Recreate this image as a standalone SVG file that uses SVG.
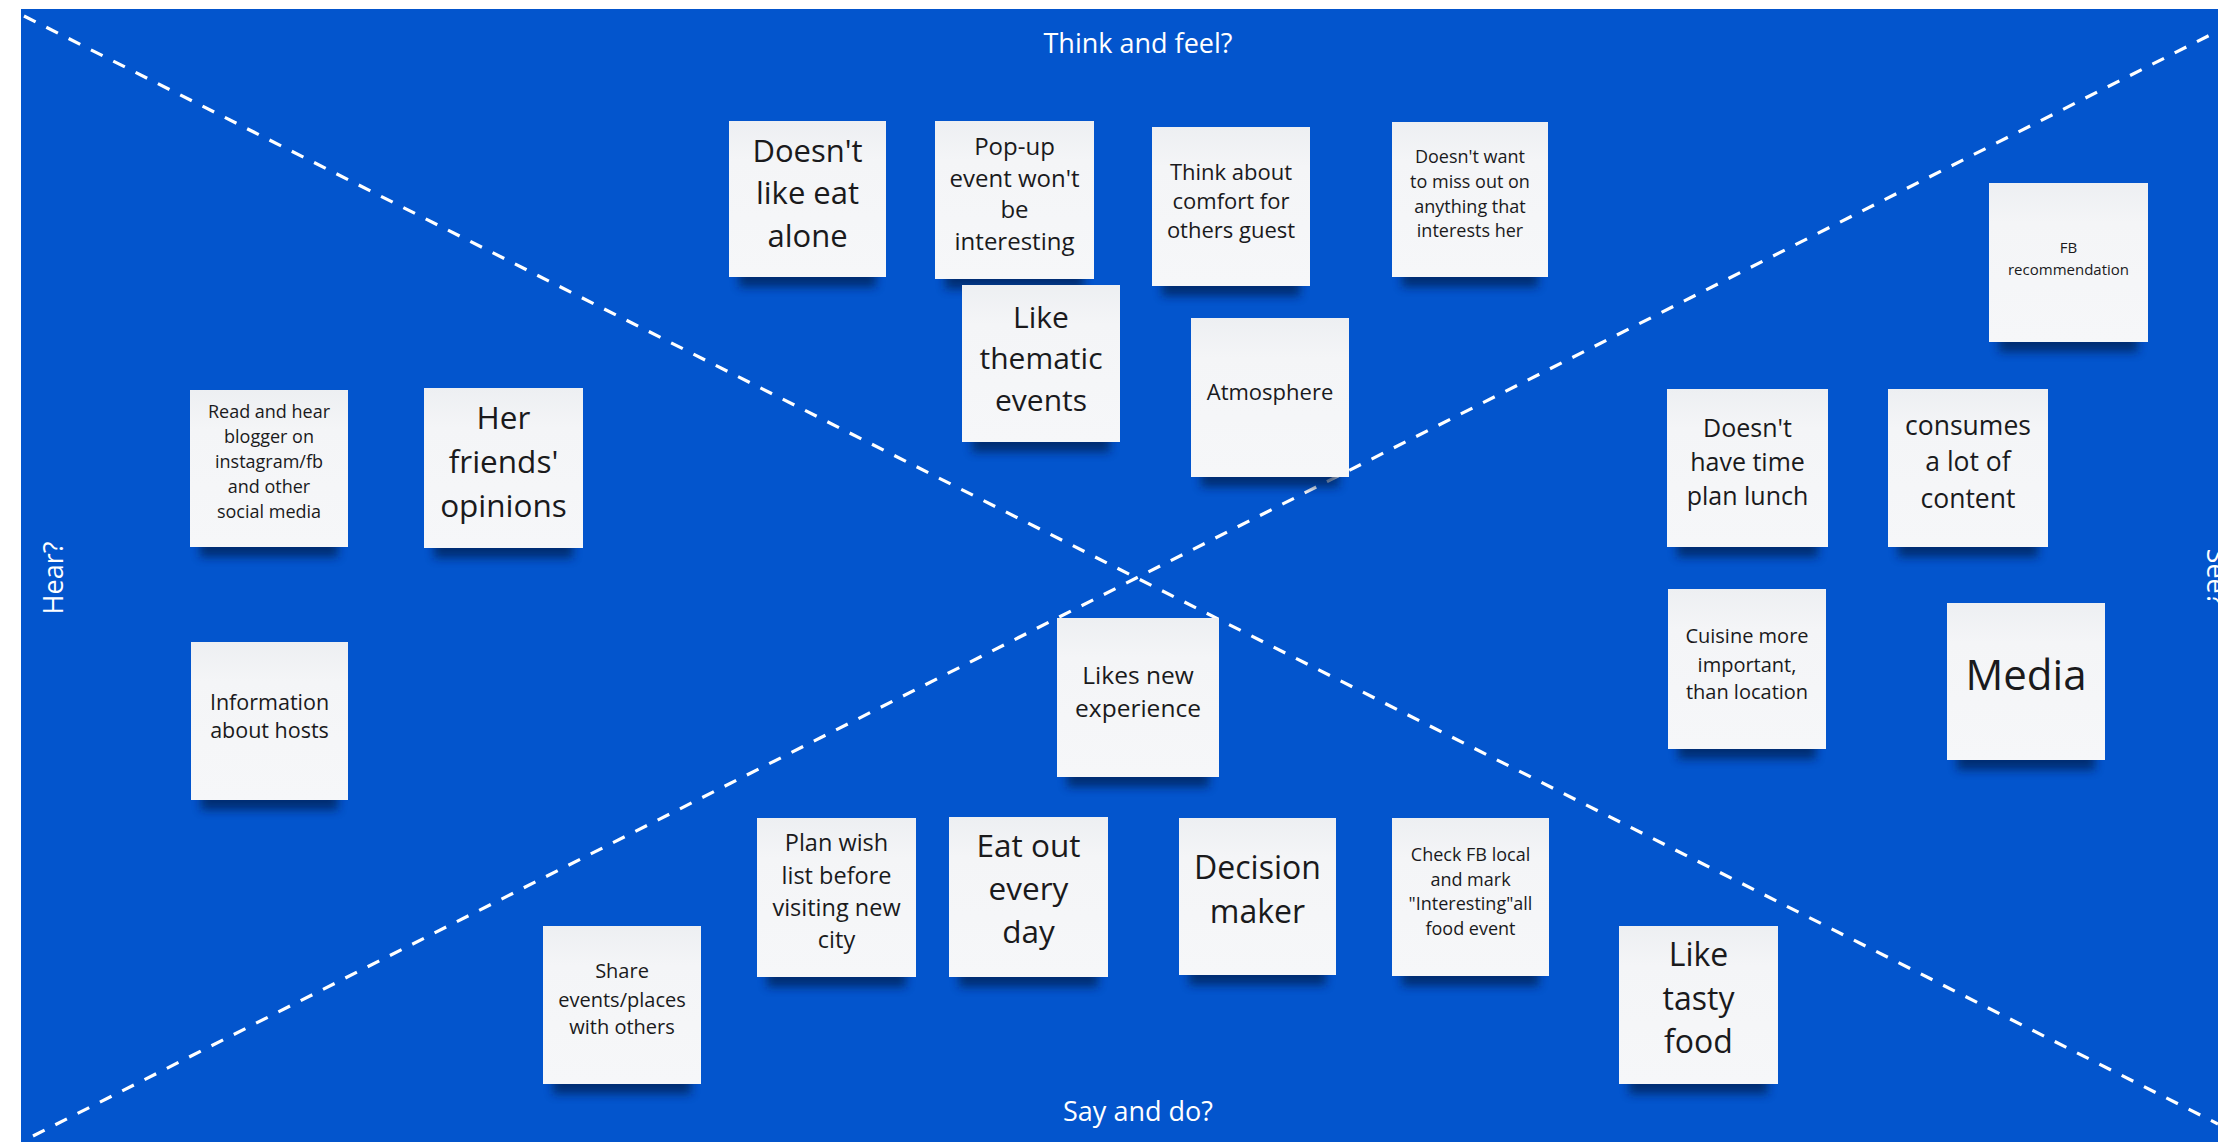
<svg xmlns="http://www.w3.org/2000/svg" width="2218" height="1142" viewBox="0 0 2218 1142">
  <defs>
    <style>
      .board { fill: #0355CD; }
      .divider { stroke: #FFFFFF; stroke-width: 3.2; stroke-dasharray: 13 12; fill: none; }
      .label { font-family: "Open Sans", "Noto Sans", sans-serif; fill: #FFFFFF; font-size: 27px; text-anchor: middle; }
      .note { fill: url(#paper); }
      .shadow { fill: #001A4E; opacity: 0.7; filter: url(#soft); }
      .txt { font-family: "Open Sans", "Noto Sans", sans-serif; fill: #1A1A1C; text-anchor: middle; }
    </style>
    <linearGradient id="paper" x1="0" y1="0" x2="0" y2="1">
      <stop offset="0" stop-color="#EDEFF2"/>
      <stop offset="0.25" stop-color="#F4F5F7"/>
      <stop offset="1" stop-color="#F6F7F9"/>
    </linearGradient>
    <filter id="soft" x="-20%" y="-50%" width="140%" height="200%">
      <feGaussianBlur stdDeviation="5"/>
    </filter>
  </defs>

  <!-- board background -->
  <rect x="0" y="0" width="2218" height="1142" fill="#FFFFFF"/>
  <rect class="board" x="21" y="9" width="2197" height="1133"/>

  <!-- quadrant dividers -->
  <g id="connectors">
    <line class="divider" x1="24" y1="16" x2="2218" y2="1124"/>
    <line class="divider" x1="33" y1="1136" x2="2218" y2="31"/>
  </g>

  <!-- quadrant titles -->
  <g id="titles">
    <text class="label" x="1138" y="53">Think and feel?</text>
    <text class="label" x="1138" y="1121">Say and do?</text>
    <text class="label" transform="translate(63 578) rotate(-90)" x="0" y="0">Hear?</text>
    <text class="label" transform="translate(2207 577) rotate(90)" x="0" y="0">See?</text>
  </g>

  <!-- sticky notes -->
  <g id="note-eat-alone">
    <rect class="shadow" x="739" y="257" width="137" height="30"/>
    <rect class="note" x="729" y="121" width="157" height="156"/>
    <text class="txt" font-size="31"><tspan x="807.5" y="162">Doesn't</tspan><tspan x="807.5" y="204">like eat</tspan><tspan x="807.5" y="247">alone</tspan></text>
  </g>

  <g id="note-popup">
    <rect class="shadow" x="945" y="259" width="139" height="30"/>
    <rect class="note" x="935" y="121" width="159" height="158"/>
    <text class="txt" font-size="24"><tspan x="1014.5" y="155">Pop-up</tspan><tspan x="1014.5" y="187">event won't</tspan><tspan x="1014.5" y="218">be</tspan><tspan x="1014.5" y="250">interesting</tspan></text>
  </g>

  <g id="note-comfort">
    <rect class="shadow" x="1162" y="266" width="138" height="30"/>
    <rect class="note" x="1152" y="127" width="158" height="159"/>
    <text class="txt" font-size="22"><tspan x="1231" y="180">Think about</tspan><tspan x="1231" y="209">comfort for</tspan><tspan x="1231" y="238">others guest</tspan></text>
  </g>

  <g id="note-miss-out">
    <rect class="shadow" x="1402" y="257" width="136" height="30"/>
    <rect class="note" x="1392" y="122" width="156" height="155"/>
    <text class="txt" font-size="18"><tspan x="1470" y="163">Doesn't want</tspan><tspan x="1470" y="188">to miss out on</tspan><tspan x="1470" y="213">anything that</tspan><tspan x="1470" y="237">interests her</tspan></text>
  </g>

  <g id="note-thematic">
    <rect class="shadow" x="972" y="422" width="138" height="30"/>
    <rect class="note" x="962" y="285" width="158" height="157"/>
    <text class="txt" font-size="30"><tspan x="1041" y="328">Like</tspan><tspan x="1041" y="369">thematic</tspan><tspan x="1041" y="411">events</tspan></text>
  </g>

  <g id="note-atmosphere">
    <rect class="shadow" x="1201" y="457" width="138" height="30"/>
    <rect class="note" x="1191" y="318" width="158" height="159"/>
    <text class="txt" font-size="22"><tspan x="1270" y="400">Atmosphere</tspan></text>
  </g>

  <g id="note-fb-recommendation">
    <rect class="shadow" x="1999" y="322" width="139" height="30"/>
    <rect class="note" x="1989" y="183" width="159" height="159"/>
    <text class="txt" font-size="15"><tspan x="2068.5" y="253">FB</tspan><tspan x="2068.5" y="275">recommendation</tspan></text>
  </g>

  <g id="note-bloggers">
    <rect class="shadow" x="200" y="527" width="138" height="30"/>
    <rect class="note" x="190" y="390" width="158" height="157"/>
    <text class="txt" font-size="18"><tspan x="269" y="418">Read and hear</tspan><tspan x="269" y="443">blogger on</tspan><tspan x="269" y="468">instagram/fb</tspan><tspan x="269" y="493">and other</tspan><tspan x="269" y="518">social media</tspan></text>
  </g>

  <g id="note-friends">
    <rect class="shadow" x="434" y="528" width="139" height="30"/>
    <rect class="note" x="424" y="388" width="159" height="160"/>
    <text class="txt" font-size="31.5"><tspan x="503.5" y="429">Her</tspan><tspan x="503.5" y="473">friends'</tspan><tspan x="503.5" y="517">opinions</tspan></text>
  </g>

  <g id="note-hosts">
    <rect class="shadow" x="201" y="780" width="137" height="30"/>
    <rect class="note" x="191" y="642" width="157" height="158"/>
    <text class="txt" font-size="21.5"><tspan x="269.5" y="710">Information</tspan><tspan x="269.5" y="738">about hosts</tspan></text>
  </g>

  <g id="note-new-experience">
    <rect class="shadow" x="1067" y="757" width="142" height="30"/>
    <rect class="note" x="1057" y="618" width="162" height="159"/>
    <text class="txt" font-size="24.5"><tspan x="1138" y="684">Likes new</tspan><tspan x="1138" y="717">experience</tspan></text>
  </g>

  <g id="note-no-time">
    <rect class="shadow" x="1677" y="527" width="141" height="30"/>
    <rect class="note" x="1667" y="389" width="161" height="158"/>
    <text class="txt" font-size="25"><tspan x="1747.5" y="437">Doesn't</tspan><tspan x="1747.5" y="471">have time</tspan><tspan x="1747.5" y="505">plan lunch</tspan></text>
  </g>

  <g id="note-content">
    <rect class="shadow" x="1898" y="527" width="140" height="30"/>
    <rect class="note" x="1888" y="389" width="160" height="158"/>
    <text class="txt" font-size="26.5"><tspan x="1968" y="435">consumes</tspan><tspan x="1968" y="471">a lot of</tspan><tspan x="1968" y="508">content</tspan></text>
  </g>

  <g id="note-cuisine">
    <rect class="shadow" x="1678" y="729" width="138" height="30"/>
    <rect class="note" x="1668" y="589" width="158" height="160"/>
    <text class="txt" font-size="20"><tspan x="1747" y="643">Cuisine more</tspan><tspan x="1747" y="672">important,</tspan><tspan x="1747" y="699">than location</tspan></text>
  </g>

  <g id="note-media">
    <rect class="shadow" x="1957" y="740" width="138" height="30"/>
    <rect class="note" x="1947" y="603" width="158" height="157"/>
    <text class="txt" font-size="42"><tspan x="2026" y="690">Media</tspan></text>
  </g>

  <g id="note-wish-list">
    <rect class="shadow" x="767" y="957" width="139" height="30"/>
    <rect class="note" x="757" y="818" width="159" height="159"/>
    <text class="txt" font-size="23.5"><tspan x="836.5" y="851">Plan wish</tspan><tspan x="836.5" y="884">list before</tspan><tspan x="836.5" y="916">visiting new</tspan><tspan x="836.5" y="948">city</tspan></text>
  </g>

  <g id="note-eat-out">
    <rect class="shadow" x="959" y="957" width="139" height="30"/>
    <rect class="note" x="949" y="817" width="159" height="160"/>
    <text class="txt" font-size="31.5"><tspan x="1028.5" y="857">Eat out</tspan><tspan x="1028.5" y="900">every</tspan><tspan x="1028.5" y="943">day</tspan></text>
  </g>

  <g id="note-decision-maker">
    <rect class="shadow" x="1189" y="955" width="137" height="30"/>
    <rect class="note" x="1179" y="818" width="157" height="157"/>
    <text class="txt" font-size="32"><tspan x="1257.5" y="879">Decision</tspan><tspan x="1257.5" y="923">maker</tspan></text>
  </g>

  <g id="note-check-fb">
    <rect class="shadow" x="1402" y="956" width="137" height="30"/>
    <rect class="note" x="1392" y="818" width="157" height="158"/>
    <text class="txt" font-size="18"><tspan x="1470.5" y="861">Check FB local</tspan><tspan x="1470.5" y="886">and mark</tspan><tspan x="1470.5" y="910">"Interesting"all</tspan><tspan x="1470.5" y="935">food event</tspan></text>
  </g>

  <g id="note-share">
    <rect class="shadow" x="553" y="1064" width="138" height="30"/>
    <rect class="note" x="543" y="926" width="158" height="158"/>
    <text class="txt" font-size="20"><tspan x="622" y="978">Share</tspan><tspan x="622" y="1007">events/places</tspan><tspan x="622" y="1034">with others</tspan></text>
  </g>

  <g id="note-tasty-food">
    <rect class="shadow" x="1629" y="1064" width="139" height="30"/>
    <rect class="note" x="1619" y="926" width="159" height="158"/>
    <text class="txt" font-size="32"><tspan x="1698.5" y="966">Like</tspan><tspan x="1698.5" y="1010">tasty</tspan><tspan x="1698.5" y="1053">food</tspan></text>
  </g>
</svg>
